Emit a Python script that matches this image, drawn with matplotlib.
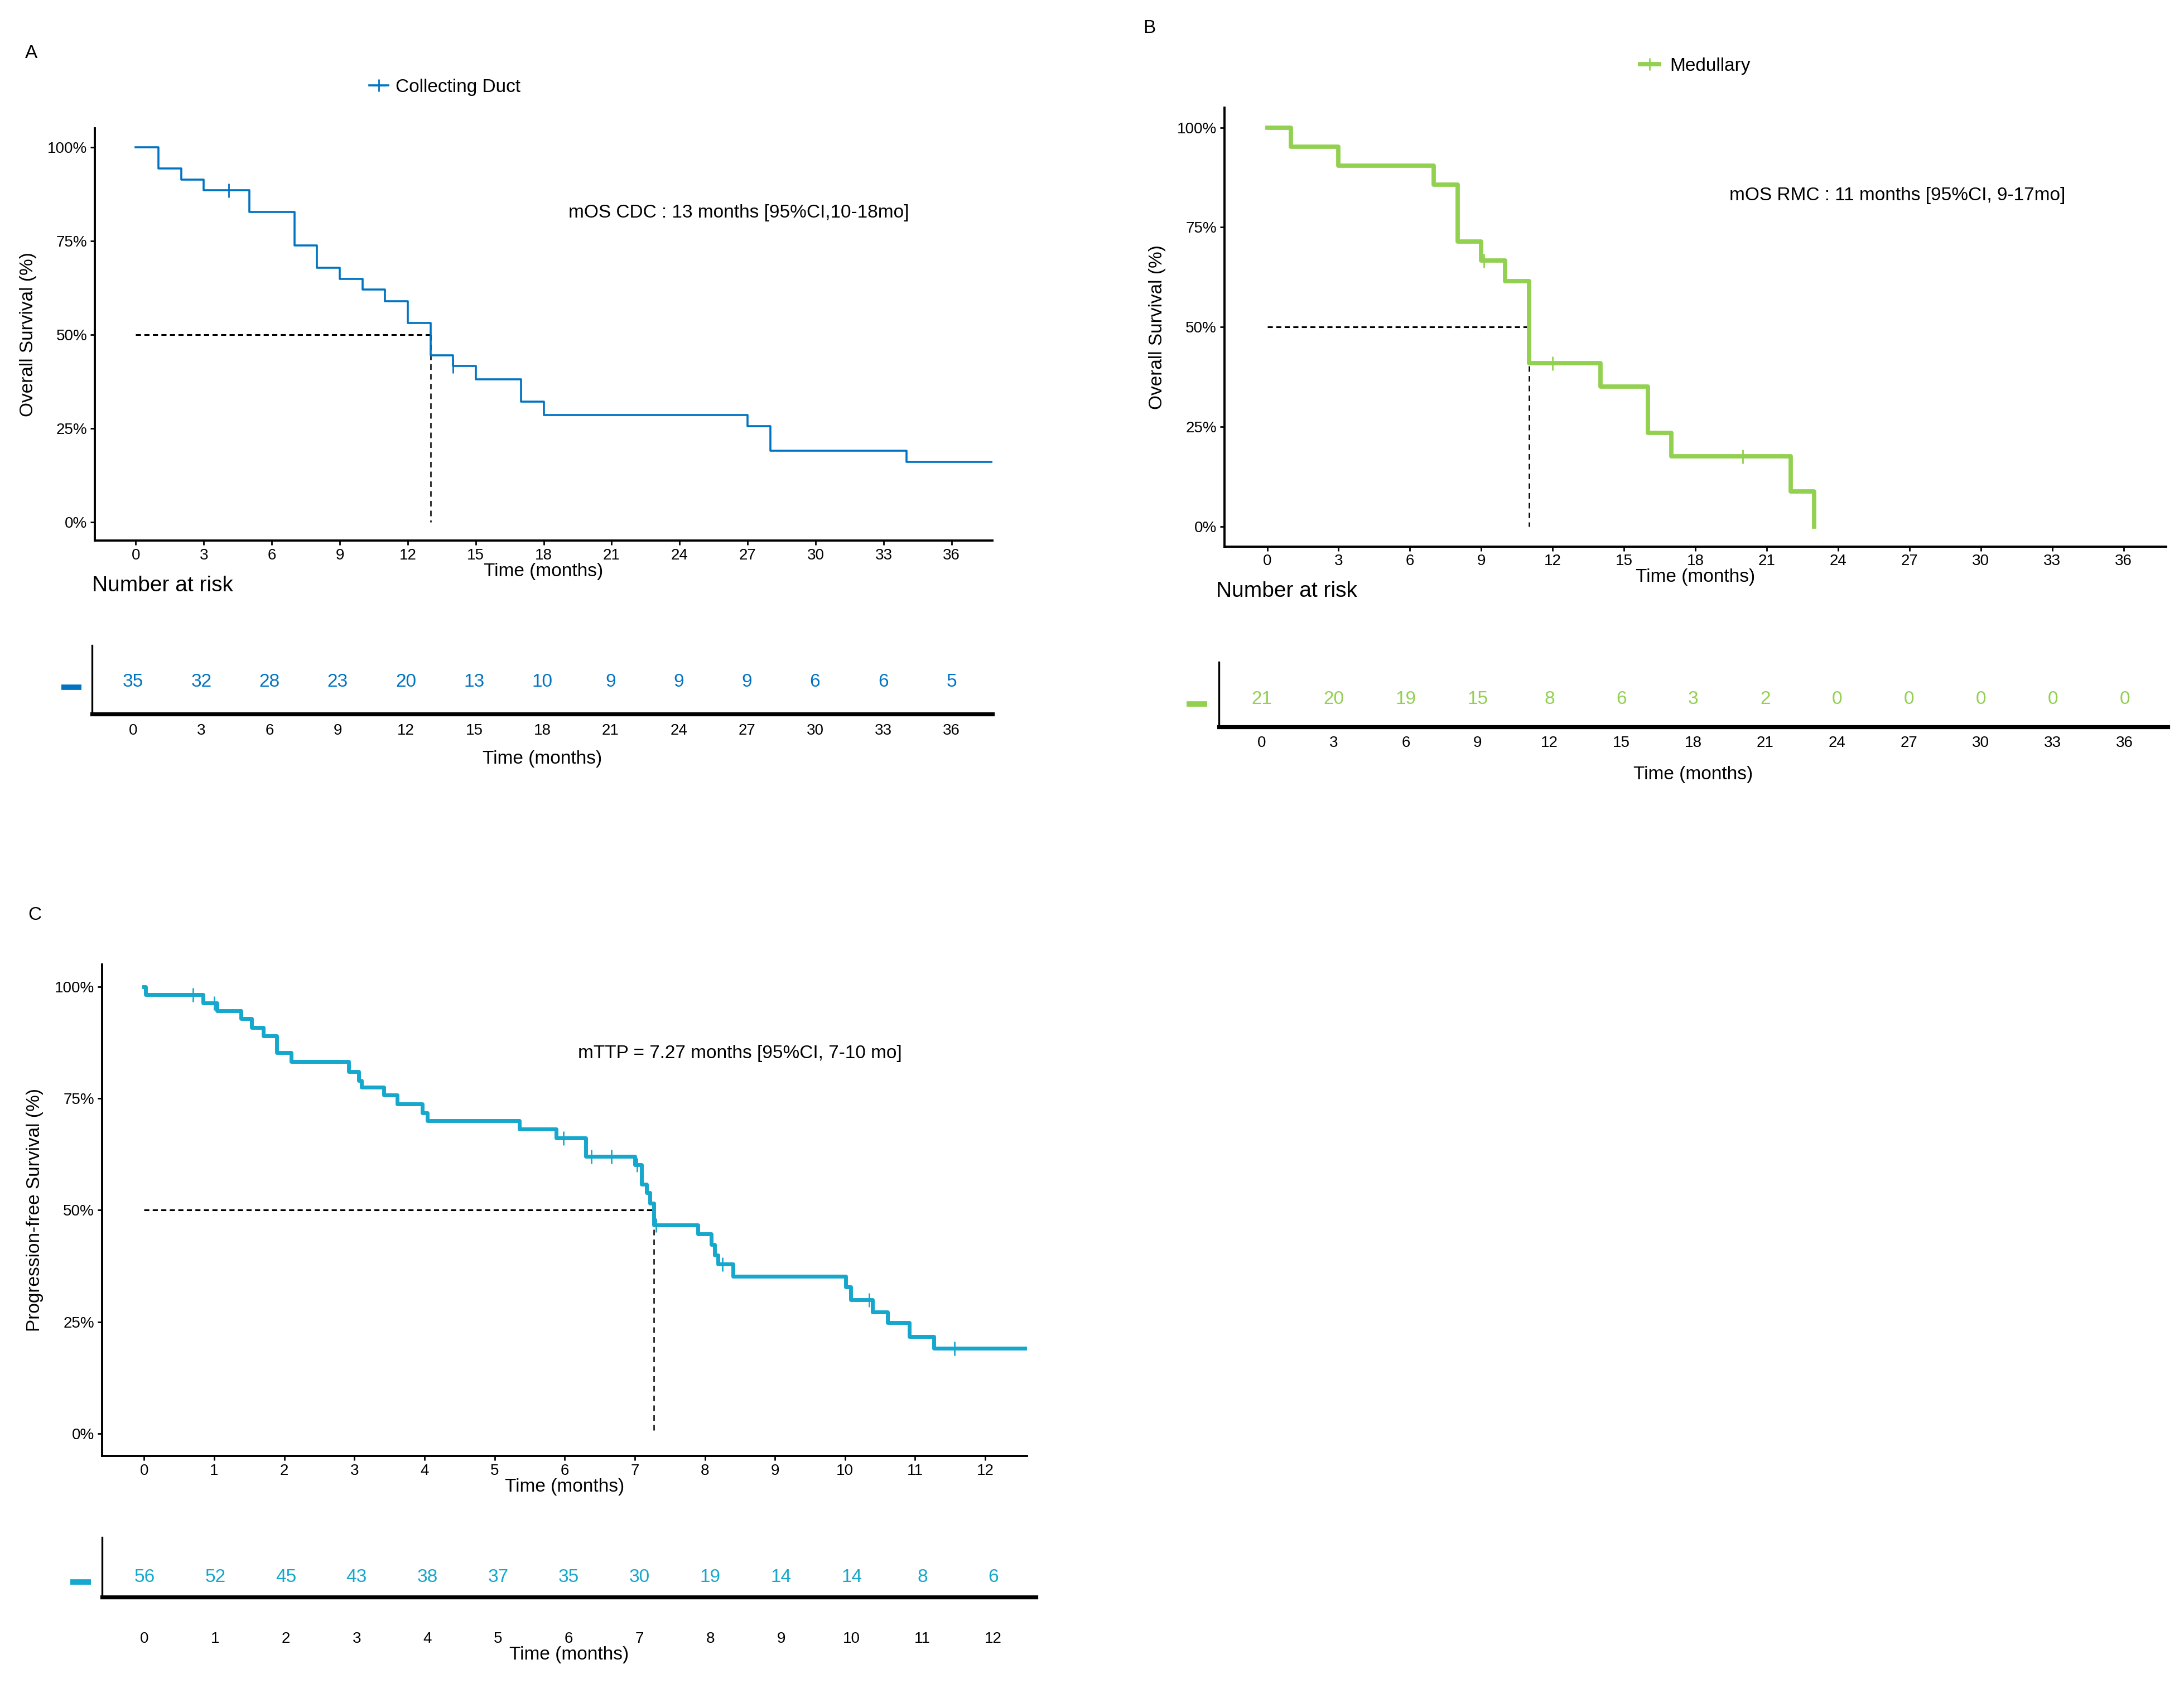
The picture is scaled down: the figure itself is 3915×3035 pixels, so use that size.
import matplotlib
matplotlib.use("Agg")
import matplotlib.pyplot as plt
from matplotlib.lines import Line2D

plt.rcParams["font.family"] = ["Liberation Sans Narrow", "Liberation Sans", "DejaVu Sans"]

# --- Panel A: collecting duct, overall survival ---
a_times = [0, 1, 2, 3, 5, 7, 8, 9, 10, 11, 12, 13, 14, 15, 17, 18, 27, 28, 34, 39]
a_surv = [100, 94.3, 91.4, 88.6, 82.7, 73.8, 67.9, 64.9, 62.0, 59.0, 53.1, 44.5,
          41.6, 38.1, 32.2, 28.6, 25.6, 19.1, 16.0, 16.0]
a_cens_t = [4.1, 14.0]
a_cens_s = [88.6, 41.6]
a_risk_t = [0, 3, 6, 9, 12, 15, 18, 21, 24, 27, 30, 33, 36]
a_risk_n = [35, 32, 28, 23, 20, 13, 10, 9, 9, 9, 6, 6, 5]
a_median = 13

# --- Panel B: medullary, overall survival ---
b_times = [0, 1, 3, 7, 8, 9, 10, 11, 14, 16, 17, 22, 23]
b_surv = [100, 95.2, 90.5, 85.7, 71.4, 66.7, 61.5, 41.0, 35.1, 23.4, 17.6, 8.8, 0]
b_cens_t = [9.1, 12.0, 20.0]
b_cens_s = [66.7, 41.0, 17.6]
b_risk_t = [0, 3, 6, 9, 12, 15, 18, 21, 24, 27, 30, 33, 36]
b_risk_n = [21, 20, 19, 15, 8, 6, 3, 2, 0, 0, 0, 0, 0]
b_median = 11

# --- Panel C: progression-free survival ---
c_times = [0, 0.02, 0.84, 1.04, 1.38, 1.53, 1.70, 1.89, 2.10, 2.92, 3.06, 3.10,
           3.42, 3.61, 3.97, 4.04, 5.35, 5.88, 6.30, 7.00, 7.10, 7.17, 7.22, 7.27,
           7.90, 8.09, 8.14, 8.19, 8.40, 10.01, 10.08, 10.39, 10.61, 10.92, 11.27, 12.7]
c_surv = [100, 98.2, 96.4, 94.6, 92.8, 90.9, 89.0, 85.2, 83.3, 81.0, 79.0, 77.5,
          75.7, 73.7, 71.8, 70.0, 68.1, 66.1, 62.0, 60.2, 55.8, 53.9, 51.5, 46.7,
          44.7, 42.3, 39.9, 37.9, 35.2, 32.8, 30.0, 27.2, 24.8, 21.8, 19.1, 19.1]
c_cens_t = [0.70, 1.0, 5.98, 6.38, 6.67, 7.03, 7.30, 8.25, 10.34, 11.56]
c_cens_s = [98.2, 96.4, 66.1, 62.0, 62.0, 60.2, 46.7, 37.9, 30.0, 19.1]
c_risk_t = list(range(13))
c_risk_n = [56, 52, 45, 43, 38, 37, 35, 30, 19, 14, 14, 8, 6]
c_median = 7.27

W, H = 1563.0, 1211.5


def rect(l, t, r, b):
    return [l / W, 1 - b / H, (r - l) / W, (b - t) / H]


fig = plt.figure(figsize=(19.58, 15.175), dpi=200)


def km_panel(box, times, surv, ct, cs, color, lw, xlim, xticks, median, ylabel,
             note, note_xy):
    ax = fig.add_axes(rect(*box))
    ax.step(times, surv, where="post", color=color, lw=lw, zorder=3)
    ax.plot(ct, cs, ls="none", marker="|", ms=9, mew=1.0, color=color, zorder=4)
    ax.plot([0, median], [50, 50], ls=(0, (3, 2)), color="black", lw=1.1)
    ax.plot([median, median], [50, 0], ls=(0, (4, 3)), color="black", lw=0.9)
    ax.set_xlim(*xlim)
    ax.set_ylim(-5, 105)
    ax.set_xticks(xticks)
    ax.set_yticks([0, 25, 50, 75, 100])
    ax.set_yticklabels(["0%", "25%", "50%", "75%", "100%"])
    for s in ["top", "right"]:
        ax.spines[s].set_visible(False)
    for s in ["left", "bottom"]:
        ax.spines[s].set_linewidth(1.4)
    ax.tick_params(labelsize=10, length=3, width=1, pad=2)
    ax.set_ylabel(ylabel, family=["Liberation Sans", "DejaVu Sans"], fontsize=12,
                  labelpad=7)
    ax.set_xlabel("Time (months)", fontsize=12, labelpad=0)
    ax.text(note_xy[0], note_xy[1], note, ha="center", va="center", fontsize=12)
    return ax


def risk_panel(box, rt, rn, color, xlim, num_y, tick_pad, label_pad):
    ax = fig.add_axes(rect(*box))
    ax.set_xlim(*xlim)
    ax.set_ylim(0, 1)
    for t, n in zip(rt, rn):
        ax.text(t, num_y, str(n), color=color, ha="center", va="center", fontsize=12)
    ax.set_xticks(rt)
    ax.set_yticks([])
    for s in ["top", "right"]:
        ax.spines[s].set_visible(False)
    ax.spines["left"].set_linewidth(1.2)
    ax.spines["bottom"].set_linewidth(2.6)
    ax.tick_params(axis="x", length=0, labelsize=10, pad=tick_pad)
    ax.set_xlabel("Time (months)", fontsize=12, labelpad=label_pad)
    # coloured strata key at the left of the table
    ax.plot([-0.034, -0.012], [num_y - 0.08, num_y - 0.08], transform=ax.transAxes,
            color=color, lw=3.5, solid_capstyle="butt", clip_on=False)
    return ax


ticks36 = [0, 3, 6, 9, 12, 15, 18, 21, 24, 27, 30, 33, 36]
xl36 = (-1.8, 37.8)
xl12 = (-0.6, 12.6)

# panel A
axA = km_panel((68, 92, 710, 387), a_times, a_surv, a_cens_t, a_cens_s, "#0073C2",
               1.3, xl36, ticks36, a_median, "Overall Survival (%)",
               "mOS CDC : 13 months [95%CI,10-18mo]", (26.6, 82.5))
axA.legend(handles=[Line2D([], [], color="#0073C2", lw=1.3, marker="+", ms=8)],
           labels=["Collecting Duct"], loc="center", bbox_to_anchor=(0.39, 1.1),
           frameon=False, fontsize=12, handlelength=1.0, handletextpad=0.4)
risk_panel((66, 462, 710, 511), a_risk_t, a_risk_n, "#0073C2", xl36, 0.47, 6, 8)
fig.text(66 / W, 1 - 419 / H, "Number at risk", fontsize=14, va="center")
fig.text(18 / W, 1 - 38 / H, "A", fontsize=12, va="center")

# panel B
axB = km_panel((876, 77, 1550, 391), b_times, b_surv, b_cens_t, b_cens_s, "#92D050",
               2.8, xl36, ticks36, b_median, "Overall Survival (%)",
               "mOS RMC : 11 months [95%CI, 9-17mo]", (26.5, 83))
axB.legend(handles=[Line2D([], [], color="#92D050", lw=2.8, marker="+", ms=8)],
           labels=["Medullary"], loc="center", bbox_to_anchor=(0.50, 1.095),
           frameon=False, fontsize=12, handlelength=1.0, handletextpad=0.6)
risk_panel((872, 474, 1551, 520), b_risk_t, b_risk_n, "#92D050", xl36, 0.43, 6, 10)
fig.text(870 / W, 1 - 423 / H, "Number at risk", fontsize=14, va="center")
fig.text(818 / W, 1 - 20 / H, "B", fontsize=12, va="center")

# panel C
km_panel((73, 690, 735, 1042), c_times, c_surv, c_cens_t, c_cens_s, "#16A7CD",
         2.5, xl12, c_risk_t, c_median, "Progression-free Survival (%)",
         "mTTP = 7.27 months [95%CI, 7-10 mo]", (8.5, 85))
risk_panel((73, 1100, 741, 1143), c_risk_t, c_risk_n, "#16A7CD", xl12, 0.33, 22, 0)
fig.text(20 / W, 1 - 655 / H, "C", fontsize=12, va="center")

fig.savefig("out.png", dpi=200, facecolor="white")
